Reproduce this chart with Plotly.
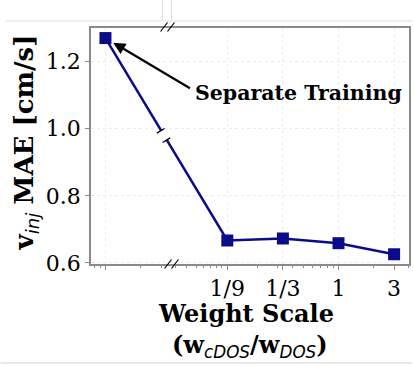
import math
import plotly.graph_objects as go

# Data: MAE of v_inj versus the cDOS/DOS weight scale
x_vals = [0.01, 1/9, 1/3, 1, 3]          # first entry is the separately trained model
mae_vals = [1.27, 0.667, 0.673, 0.659, 0.626]
tick_vals = [0.01, 1/9, 1/3, 1, 3]
tick_text = ["", "1/9", "1/3", "1", "3"]

W, H = 414, 366
L, R, T, B = 91, 3, 28, 102
PW, PH = W - L - R, H - T - B

NAVY = "#0c0c8a"
AXIS = "#8a8a8a"
SERIF = "DejaVu Serif"


def px(xp, yp):
    """pixel position -> paper coordinates"""
    return (xp - L) / PW, (H - B - yp) / PH


def sub(s):
    return ('<sub><span style="font-family:DejaVu Sans;font-style:italic;'
            'font-weight:normal">' + s + '</span></sub>')


fig = go.Figure()
fig.add_trace(go.Scatter(
    x=x_vals, y=mae_vals, mode="lines+markers",
    line=dict(color=NAVY, width=2.5),
    marker=dict(symbol="square", size=12, color=NAVY),
    showlegend=False, cliponaxis=False,
))

shapes = []


def seg(p0, p1, color, width, ref="paper"):
    a = px(*p0)
    b = px(*p1)
    shapes.append(dict(type="line", xref=ref, yref=ref, x0=a[0], y0=a[1],
                       x1=b[0], y1=b[1], line=dict(color=color, width=width),
                       layer="above"))


# break on the connecting line between the separate model and the sweep
cx, cy = 164.0, 135.5
ux, uy = 0.524, 0.852
vx, vy = 0.852, -0.524
g = 5.5
seg((cx - ux * g, cy - uy * g), (cx + ux * g, cy + uy * g), "white", 6)
for s in (-1, 1):
    bx, by = cx + s * ux * g, cy + s * uy * g
    seg((bx - vx * 4.5, by - vy * 4.5), (bx + vx * 4.5, by + vy * 4.5), "black", 1.3)

# axis break slashes on top and bottom frame
for (bx, by) in [(168, 27), (172, 264)]:
    for dx in (-3.5, 3.5):
        seg((bx + dx - 3.5, by + 4.5), (bx + dx + 3.5, by - 4.5), "black", 1.2)

# light outer frame
seg((5, 21), (414, 21), "#dedede", 1)
seg((0, 363), (414, 363), "#cfcfcf", 1.2)
seg((163, 0), (163, 20), "#dedede", 1)
seg((172, 0), (172, 20), "#dedede", 1)

annotations = []
# arrow pointing at the separately trained result
annotations.append(dict(
    x=math.log10(x_vals[0]), y=mae_vals[0], xref="x", yref="y",
    text="", showarrow=True, ax=86, ay=51, standoff=9,
    arrowhead=2, arrowsize=1.1, arrowwidth=2.2, arrowcolor="black",
))
tx, ty = px(300, 93)
annotations.append(dict(
    x=tx, y=ty, xref="paper", yref="paper", showarrow=False,
    text="<b>Separate Training</b>", font=dict(family=SERIF, size=20.5, color="black"),
    xanchor="center", yanchor="middle",
))
# axis titles
tx, ty = px(247, 313)
annotations.append(dict(
    x=tx, y=ty, xref="paper", yref="paper", showarrow=False,
    text="<b>Weight Scale</b>", font=dict(family=SERIF, size=24, color="black"),
    xanchor="center", yanchor="middle",
))
tx, ty = px(251, 346)
annotations.append(dict(
    x=tx, y=ty, xref="paper", yref="paper", showarrow=False,
    text="<b>(w</b>" + sub("cDOS") + "<b>/w</b>" + sub("DOS") + "<b>)</b>",
    font=dict(family=SERIF, size=24, color="black"),
    xanchor="center", yanchor="middle",
))
tx, ty = px(25, 142)
annotations.append(dict(
    x=tx, y=ty, xref="paper", yref="paper", showarrow=False, textangle=-90,
    text="<b>v</b>" + sub("inj") + " <b>MAE [cm/s]</b>",
    font=dict(family=SERIF, size=26, color="black"),
    xanchor="center", yanchor="middle",
))

fig.update_layout(
    width=W, height=H,
    margin=dict(l=L, r=R, t=T, b=B, pad=0),
    paper_bgcolor="white", plot_bgcolor="white",
    font=dict(family=SERIF, color="black"),
    shapes=shapes, annotations=annotations,
    xaxis=dict(
        type="log", range=[-2.124, 0.605],
        tickmode="array", tickvals=tick_vals, ticktext=tick_text,
        ticks="outside", ticklen=4, tickcolor=AXIS, tickwidth=1,
        tickfont=dict(family=SERIF, size=22, color="black"),
        showline=True, linecolor=AXIS, linewidth=1.5, mirror=True,
        showgrid=True, gridcolor="#ececec", griddash="dot", gridwidth=1,
        minor=dict(ticks="outside", ticklen=2.5, tickcolor=AXIS, dtick="D1",
                   showgrid=False),
        zeroline=False,
    ),
    yaxis=dict(
        range=[0.597, 1.30], tickvals=[0.6, 0.8, 1.0, 1.2], tickformat=".1f",
        ticks="outside", ticklen=4, tickcolor=AXIS,
        tickfont=dict(family=SERIF, size=22, color="black"),
        showline=True, linecolor=AXIS, linewidth=1.5, mirror=True,
        showgrid=True, gridcolor="#ececec", griddash="dot", gridwidth=1,
        zeroline=False,
    ),
)

fig.write_html("out.html")
